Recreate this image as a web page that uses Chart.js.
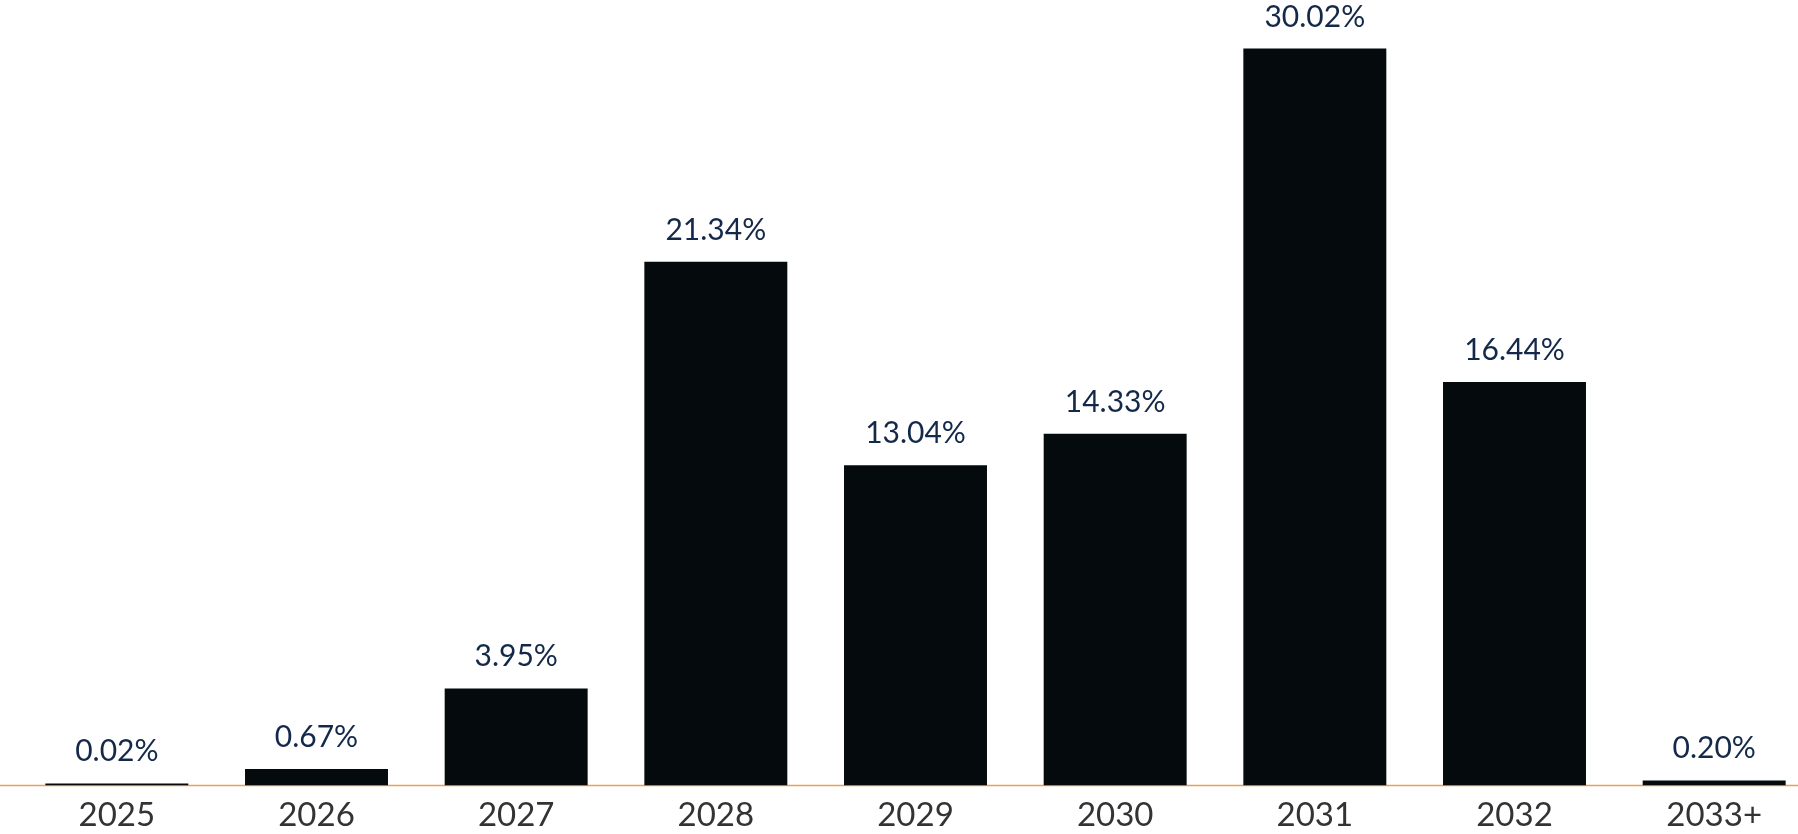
<!DOCTYPE html>
<html>
<head>
<meta charset="utf-8">
<script src="https://cdn.jsdelivr.net/npm/chart.js@4/dist/chart.umd.min.js"></script>
<style>
	html, body { margin: 0; padding: 0; background: #fff; overflow: hidden; }
	#wrap { position: absolute; left: 0; top: 0; width: 1830px; height: 845px; }
</style>
</head>
<body>
<div id="wrap"><canvas id="share_chart"></canvas></div>
<script>
// categories and values
const years = ['2025', '2026', '2027', '2028', '2029', '2030', '2031', '2032', '2033+']
const shares = [0.02, 0.67, 3.95, 21.34, 13.04, 14.33, 30.02, 16.44, 0.20]

const BAR_COLOR = '#050a0c'
const LABEL_COLOR = '#14294a'
const LINE_COLOR = '#e9a253'

// draws the orange base line across the whole width
const baseLine = {
	id: 'baseLine',
	beforeDatasetsDraw(chart) {
		const { ctx } = chart
		const y = chart.scales.y.getPixelForValue(0)
		ctx.save()
		ctx.strokeStyle = LINE_COLOR
		ctx.lineWidth = 1.5
		ctx.beginPath()
		ctx.moveTo(0, y)
		ctx.lineTo(chart.width, y)
		ctx.stroke()
		ctx.restore()
	},
}

// percentage text above every bar
const valueLabels = {
	id: 'valueLabels',
	afterDatasetsDraw(chart) {
		const { ctx } = chart
		const meta = chart.getDatasetMeta(0)
		ctx.save()
		ctx.fillStyle = LABEL_COLOR
		ctx.font = '30px Lato'
		ctx.textAlign = 'center'
		ctx.textBaseline = 'alphabetic'
		meta.data.forEach((bar, i) => {
			ctx.fillText(shares[i].toFixed(2) + '%', bar.x, bar.y - 22)
		})
		ctx.restore()
	},
}

const options = {
	type: 'bar',
	data: {
		labels: years,
		datasets: [
			{
				data: shares,
				backgroundColor: BAR_COLOR,
				borderWidth: 0,
				minBarLength: 2,
				barPercentage: 0.716,
				categoryPercentage: 1,
			},
		],
	},
	options: {
		responsive: true,
		maintainAspectRatio: false,
		animation: false,
		layout: { padding: { left: 17, right: 16, top: 0, bottom: 0 } },
		plugins: {
			legend: { display: false },
			tooltip: { enabled: false },
		},
		scales: {
			x: {
				grid: { display: false, drawTicks: false },
				border: { display: false },
				ticks: {
					color: '#333333',
					font: { family: 'Lato', size: 33 },
					padding: 10,
					maxRotation: 0,
				},
			},
			y: {
				display: false,
				min: 0,
				max: 32,
			},
		},
	},
	plugins: [baseLine, valueLabels],
}

new Chart(document.getElementById('share_chart'), options)
</script>
</body>
</html>
